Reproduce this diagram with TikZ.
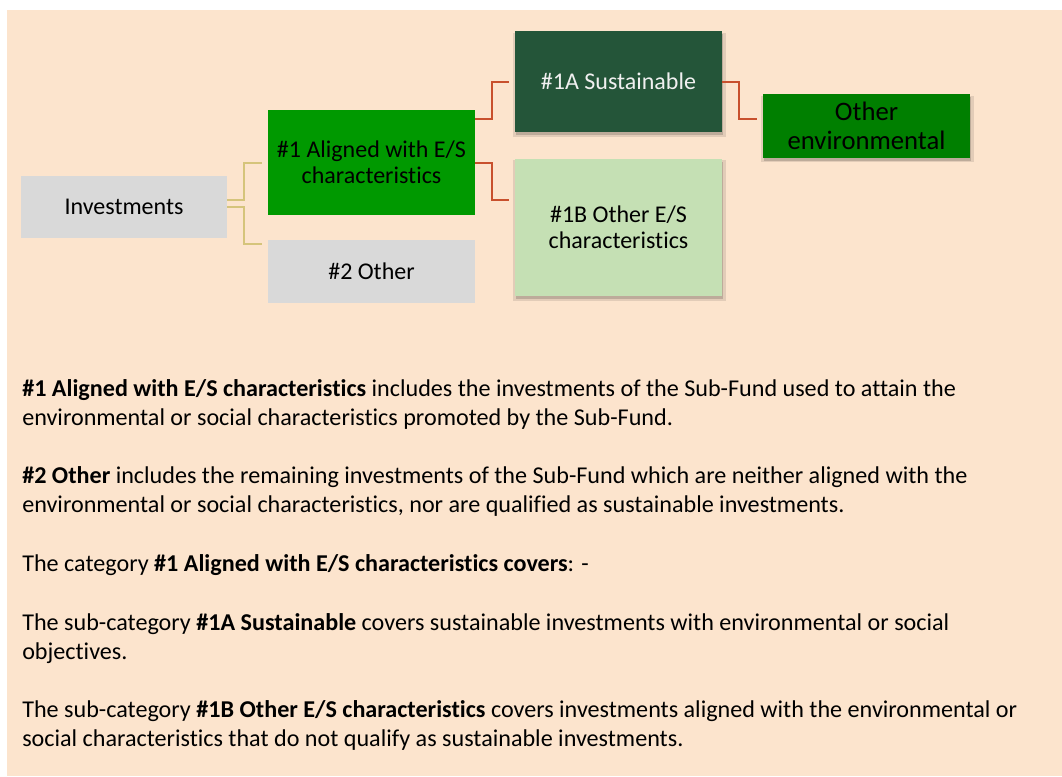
\documentclass[tikz,border=0pt]{standalone}
\usepackage{fontspec}
\setmainfont{Carlito}[Ligatures=NoCommon]
\usetikzlibrary{shadows}
\definecolor{peach}{HTML}{FCE4CD}
\definecolor{boxgray}{HTML}{D9D9D9}
\definecolor{greenA}{HTML}{009900}
\definecolor{darkgreen}{HTML}{245539}
\definecolor{lightgreen}{HTML}{C5E0B4}
\definecolor{greenB}{HTML}{007F00}
\definecolor{linkyellow}{HTML}{D5C47B}
\definecolor{linkred}{HTML}{C8502D}
\definecolor{offwhite}{HTML}{F0F0F0}
\tikzset{
  box/.style={rectangle, inner sep=0pt, align=center, minimum width=155.25pt,
    font=\fontsize{18pt}{19.75pt}\selectfont},
  shadowbox/.style={
    general shadow={fill=black, opacity=0.10, shadow xshift=0.6pt, shadow yshift=-2.2pt, shadow scale=1.03},
    general shadow={fill=black, opacity=0.16, shadow xshift=0.6pt, shadow yshift=-2.2pt, shadow scale=1.0}},
  ylink/.style={draw=linkyellow, line width=1.5pt},
  rlink/.style={draw=linkred, line width=1.5pt},
  bodyline/.style={anchor=base west, inner sep=0pt, font=\fontsize{18.1pt}{21.75pt}\selectfont}
}
\begin{document}
\begin{tikzpicture}[x=0.75pt, y=-0.75pt]
\useasboundingbox (0,0) rectangle (1062,776);
\fill[white] (0,0) rectangle (1062,776);
\fill[peach] (7,10) rectangle (1062,776);

% boxes
\node[box, fill=boxgray, minimum width=154.5pt, minimum height=46.5pt] (inv) at (124,207) {Investments};
\node[box, fill=greenA, minimum height=78.75pt] (a1) at (371.5,162.5) {\#1 Aligned with E/S\\characteristics};
\node[box, fill=boxgray, minimum height=47.25pt] (o2) at (371.5,271.5) {\#2 Other};
\node[box, shadowbox, fill=darkgreen, text=offwhite, minimum height=75.75pt] (s1a) at (618.5,81.5) {\#1A Sustainable};
\node[box, shadowbox, fill=lightgreen, minimum height=102.75pt] (b1) at (618.5,227.5) {\#1B Other E/S\\characteristics};
\node[box, shadowbox, fill=greenB, minimum height=48pt, font=\fontsize{20pt}{21.75pt}\selectfont] (oe) at (866.5,126) {Other\\environmental};

% connectors
\draw[ylink] ([yshift=5.25pt]inv.east) -- ++(17,0) |- ([xshift=-4.5pt]a1.west);
\draw[ylink] (inv.east) -- ++(17,0) |- ([xshift=-4.5pt,yshift=-3pt]o2.north west);
\draw[rlink] ([yshift=-6.75pt]a1.north east) -- ++(17,0) |- ([xshift=-4.5pt]s1a.west);
\draw[rlink] (a1.east) -- ++(17,0) |- ([xshift=-4.5pt,yshift=-30.75pt]b1.north west);
\draw[rlink] (s1a.east) -- ++(17,0) |- ([xshift=-4.5pt,yshift=5.25pt]oe.west);

% text
\node[bodyline] (t1) at (22,396) {\textbf{\#1 Aligned with E/S characteristics} includes the investments of the Sub-Fund used to attain the};
\node[bodyline] (t2) at (22,425) {environmental or social characteristics promoted by the Sub-Fund.};
\node[bodyline] (t3) at (22,483) {\textbf{\#2 Other} includes the remaining investments of the Sub-Fund which are neither aligned with the};
\node[bodyline] (t4) at (22,512) {environmental or social characteristics, nor are qualified as sustainable investments.};
\node[bodyline] (t5) at (22,571) {The category \textbf{\#1 Aligned with E/S characteristics covers}: -};
\node[bodyline] (t6) at (22,630) {The sub-category \textbf{\#1A Sustainable} covers sustainable investments with environmental or social};
\node[bodyline] (t7) at (22,659) {objectives.};
\node[bodyline] (t8) at (22,717) {The sub-category \textbf{\#1B Other E/S characteristics} covers investments aligned with the environmental or};
\node[bodyline] (t9) at (22,746) {social characteristics that do not qualify as sustainable investments.};
\end{tikzpicture}
\end{document}
